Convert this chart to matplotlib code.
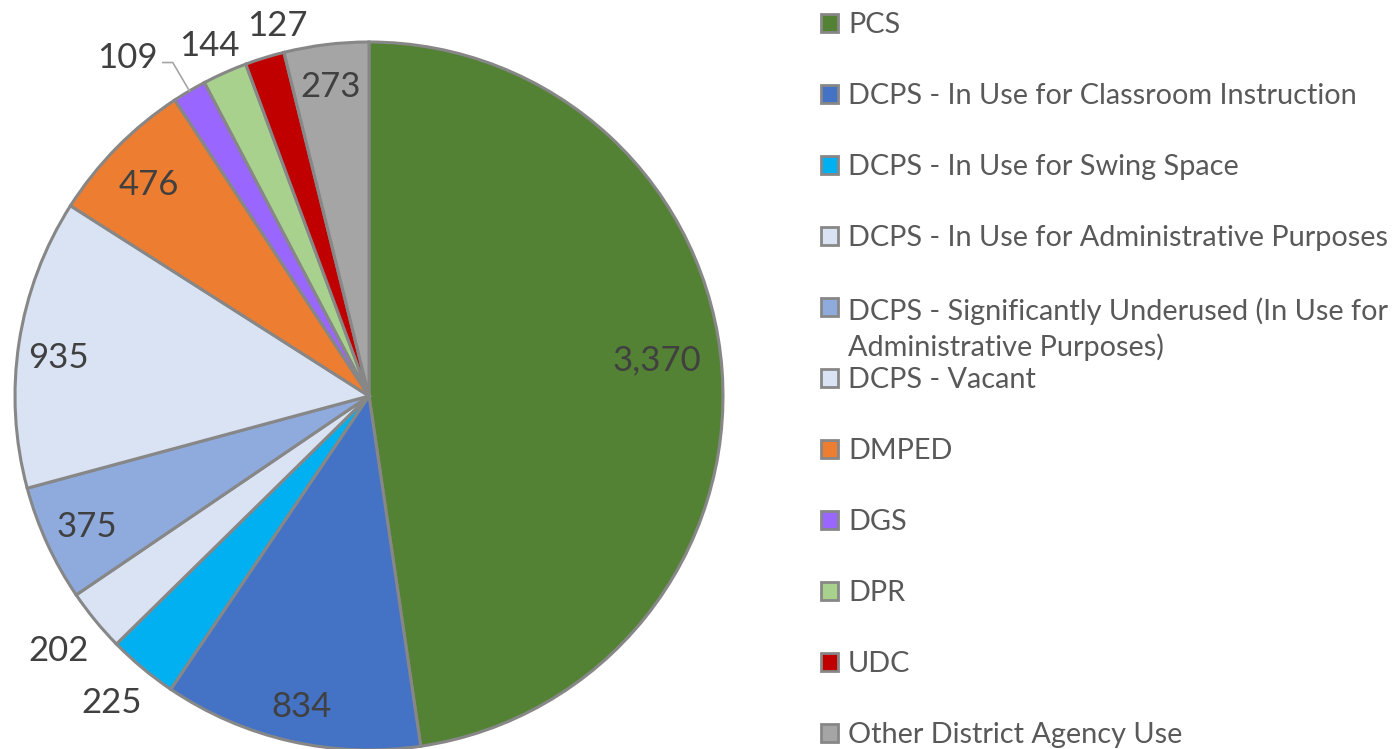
import numpy as np
import matplotlib
matplotlib.use("Agg")
import matplotlib.pyplot as plt
from matplotlib.patches import Rectangle

plt.rcParams['font.family'] = ['Lato', 'DejaVu Sans']

# data
categories = [
    "PCS",
    "DCPS - In Use for Classroom Instruction",
    "DCPS - In Use for Swing Space",
    "DCPS - In Use for Administrative Purposes",
    "DCPS - Significantly Underused (In Use for\nAdministrative Purposes)",
    "DCPS - Vacant",
    "DMPED",
    "DGS",
    "DPR",
    "UDC",
    "Other District Agency Use",
]
values = [3370, 834, 225, 202, 375, 935, 476, 109, 144, 127, 273]
colors = ["#548235", "#4472C4", "#00B0F0", "#DAE3F3", "#8FAADC", "#DAE3F3",
          "#ED7D31", "#9966FF", "#A9D18E", "#C00000", "#A5A5A5"]
# value label placement: fraction of radius, and nudge (deg, clockwise) off the slice middle
label_dist = [0.821, 0.892, 1.126, 1.129, 0.875, 0.885, 0.867, 1.18, 1.095, 1.084, 0.889]
label_shift = [-3.4, -0.5, 0.5, 0.2, 0.2, -1.1, -0.4, -4.8, -0.3, 3.3, 0.0]

W, H = 1400, 749
fig = plt.figure(figsize=(W / 100, H / 100), dpi=100)
ax = fig.add_axes([0, 0, 1, 1])

R = 354
cx, cy = 369, H - 396
wedges, _ = ax.pie(values, colors=colors, startangle=90, counterclock=False,
                   radius=R, center=(cx, cy),
                   wedgeprops=dict(edgecolor="#878787", linewidth=2.2))
ax.set_xlim(0, W)
ax.set_ylim(0, H)
ax.set_aspect("equal")
ax.axis("off")

# value labels
for w, v, d, s in zip(wedges, values, label_dist, label_shift):
    mid = (w.theta1 + w.theta2) / 2
    ang = np.deg2rad(mid - s)
    x = cx + d * R * np.cos(ang)
    y = cy + d * R * np.sin(ang)
    ax.text(x, y, f"{v:,}", ha="center", va="center_baseline",
            fontsize=25, color="#404040")
    if v == 109:
        # leader line for the small slice
        a = np.deg2rad(mid)
        ex, ey = cx + R * np.cos(a), cy + R * np.sin(a)
        kx, ky = cx + 1.093 * R * np.cos(a), cy + 1.093 * R * np.sin(a)
        ax.plot([ex, kx, kx - 10], [ey, ky, ky], color="#A6A6A6", lw=1.2)

# legend drawn by hand so the wrapped entry keeps the even spacing
for i, (lab, c) in enumerate(zip(categories, colors)):
    base = H - (33 + 71 * i)
    ax.add_patch(Rectangle((821, base + 1), 17, 18, facecolor=c,
                           edgecolor="#878787", lw=2))
    nl = lab.count("\n")
    ax.text(848, base - 39 * nl, lab, ha="left", va="baseline", fontsize=20.8,
            color="#595959", linespacing=1.35)

fig.savefig("out.png", dpi=100)
